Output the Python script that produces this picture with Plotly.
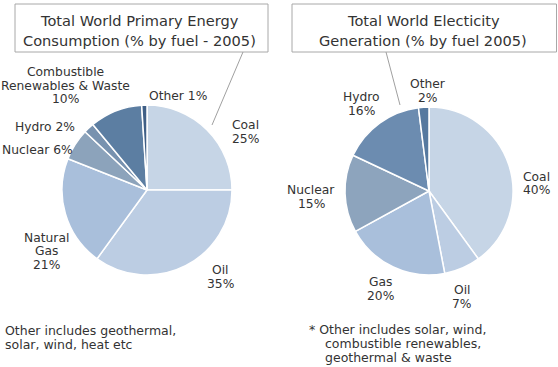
import plotly.graph_objects as go

W, H = 558, 367

# ---- data ----
primary_labels = ["Coal", "Oil", "Natural Gas", "Nuclear", "Hydro",
                  "Combustible Renewables & Waste", "Other"]
primary_values = [25, 35, 21, 6, 2, 10, 1]
primary_colors = ["#c6d5e6", "#bccde3", "#a9bfdb", "#8ca3bb", "#7892af",
                  "#5c7ea2", "#3f5f86"]

elec_labels = ["Coal", "Oil", "Gas", "Nuclear", "Hydro", "Other"]
elec_values = [40, 7, 20, 15, 16, 2]
elec_colors = ["#c6d5e6", "#bccde3", "#a9bfdb", "#8da4bd", "#6c8cb0", "#56799f"]

title_left = ["Total World Primary Energy", "Consumption (% by fuel - 2005)"]
title_right = ["Total World Electicity", "Generation (% by fuel 2005)"]
note_left = ["Other includes geothermal,", "solar, wind, heat etc"]
note_right = ["* Other includes solar, wind,", "combustible renewables,", "geothermal & waste"]

FONT = "DejaVu Sans"
TXT = "#333333"


def px(x):
    return x / W


def py(y):
    return 1 - y / H


fig = go.Figure()


def add_pie(labels, values, colors, cx, cy, r):
    fig.add_trace(go.Pie(
        labels=labels, values=values, sort=False, direction="clockwise",
        rotation=0, textinfo="none", hoverinfo="label+percent",
        marker=dict(colors=colors, line=dict(color="white", width=1.5)),
        domain=dict(x=[px(cx - r), px(cx + r)], y=[py(cy + r), py(cy - r)]),
        showlegend=False,
    ))


add_pie(primary_labels, primary_values, primary_colors, 147, 190, 85)
add_pie(elec_labels, elec_values, elec_colors, 429, 191, 84)

annotations = []


def add_lines(lines, x, y0, step, size, xanchor="center"):
    for i, t in enumerate(lines):
        annotations.append(dict(
            text=t, x=px(x), y=py(y0 + i * step), xref="paper", yref="paper",
            xanchor=xanchor, yanchor="middle", showarrow=False,
            font=dict(family=FONT, size=size, color=TXT)))


def slice_lines(labels, values, name, single=False, split=None):
    v = values[labels.index(name)]
    if single:
        return [f"{name} {v}%"]
    parts = split if split else [name]
    return parts + [f"{v}%"]


LS = 12.3
STEP = 13.5
# left chart labels
add_lines(slice_lines(primary_labels, primary_values, "Combustible Renewables & Waste",
                      split=["Combustible", "Renewables & Waste"]), 65, 72, STEP, LS)
add_lines(slice_lines(primary_labels, primary_values, "Other", single=True), 178, 96, STEP, LS)
add_lines(slice_lines(primary_labels, primary_values, "Coal"), 245, 125, STEP, LS)
add_lines(slice_lines(primary_labels, primary_values, "Hydro", single=True), 45, 127, STEP, LS)
add_lines(slice_lines(primary_labels, primary_values, "Nuclear", single=True), 0, 150, STEP, LS,
          xanchor="left")
add_lines(slice_lines(primary_labels, primary_values, "Natural Gas", split=["Natural", "Gas"]),
          46, 238, STEP, LS)
add_lines(slice_lines(primary_labels, primary_values, "Oil"), 220, 270, STEP, LS)

# right chart labels
add_lines(slice_lines(elec_labels, elec_values, "Hydro"), 361, 97, STEP, LS)
add_lines(slice_lines(elec_labels, elec_values, "Other"), 428, 84, STEP, LS)
add_lines(slice_lines(elec_labels, elec_values, "Coal"), 536, 177, STEP, LS)
add_lines(slice_lines(elec_labels, elec_values, "Nuclear"), 311, 190, STEP, LS)
add_lines(slice_lines(elec_labels, elec_values, "Gas"), 381, 282, STEP, LS)
add_lines(slice_lines(elec_labels, elec_values, "Oil"), 462, 290, STEP, LS)

# titles
add_lines(title_left, 139, 21, 19, 14.6)
add_lines(title_right, 423, 21, 19, 14.6)

# footnotes
add_lines(note_left, 3, 330, 14, 12.5, xanchor="left")
add_lines(note_right[:1], 307, 329, 14, 12.5, xanchor="left")
add_lines(note_right[1:], 323, 343, 14, 12.5, xanchor="left")

shapes = [
    dict(type="rect", xref="paper", yref="paper", x0=px(15), x1=px(268), y0=py(52), y1=py(4),
         line=dict(color="#a8a8a8", width=1), fillcolor="white", layer="below"),
    dict(type="rect", xref="paper", yref="paper", x0=px(292), x1=px(556.5), y0=py(52), y1=py(4),
         line=dict(color="#a8a8a8", width=1), fillcolor="white", layer="below"),
    dict(type="line", xref="paper", yref="paper", x0=px(243), y0=py(52), x1=px(212), y1=py(125),
         line=dict(color="#a0a0a0", width=1)),
    dict(type="line", xref="paper", yref="paper", x0=px(386), y0=py(52), x1=px(400), y1=py(105),
         line=dict(color="#a0a0a0", width=1)),
]

fig.update_layout(
    width=W, height=H, margin=dict(l=0, r=0, t=0, b=0),
    paper_bgcolor="white", plot_bgcolor="white",
    annotations=annotations, shapes=shapes,
    font=dict(family=FONT, color=TXT),
)

fig.write_html("out.html")
